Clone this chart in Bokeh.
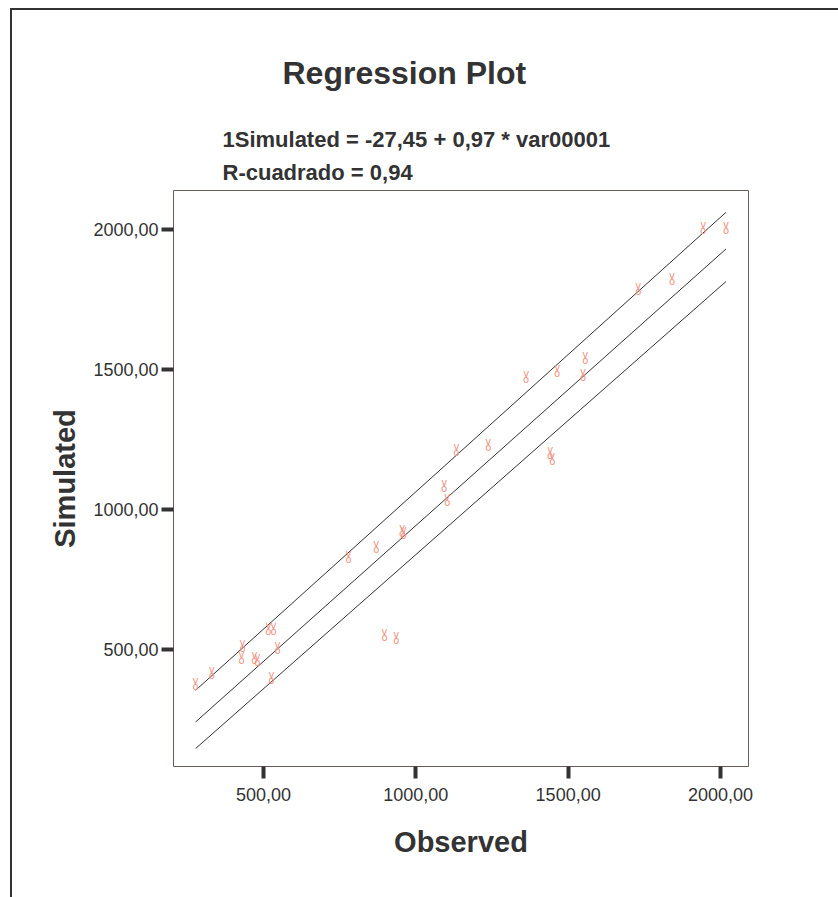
from bokeh.plotting import figure
from bokeh.models import (Range1d, FixedTicker, CustomJSTickFormatter, Title,
                          ColumnDataSource)
from bokeh.core.properties import value
from bokeh.embed import file_html
from bokeh.resources import INLINE

# ---- data ----
observed = [277, 330, 428, 431, 470, 480, 516, 533, 526, 546,
            779, 870, 897, 936, 955, 960, 1093, 1103, 1133, 1238,
            1362, 1464, 1441, 1448, 1556, 1549, 1730, 1841, 1943, 2018]
simulated = [379, 418, 471, 514, 471, 465, 575, 575, 400, 507,
             832, 868, 554, 543, 925, 918, 1086, 1036, 1214, 1232,
             1475, 1496, 1203, 1182, 1543, 1482, 1789, 1825, 2007, 2007]

line_x = [277, 2018]
fit_y = [241, 1930]
upper_y = [354, 2061]
lower_y = [146, 1814]

ticks = [500, 1000, 1500, 2000]

title_text = "Regression Plot"
sub1 = "1Simulated = -27,45 + 0,97 * var00001"
sub2 = "R-cuadrado = 0,94"
xlabel = "Observed"
ylabel = "Simulated"

FONT = "Liberation Sans"
DARK = "#333333"
W, H = 838, 897
FL, FT, FB = 173, 190, 766   # frame left / top / bottom in canvas pixels

p = figure(width=W, height=H, output_backend="svg", toolbar_location=None,
           x_range=Range1d(204.6, 2092), y_range=Range1d(82, 2139),
           min_border_left=FL, min_border_right=90, min_border_top=FT,
           min_border_bottom=H - FB)
p.title = None
p.background_fill_color = "white"
p.border_fill_color = None
p.styles = {
    "background": "linear-gradient(#333333,#333333) 10px 8px / 2px 100% no-repeat, "
                  "linear-gradient(#333333,#333333) 10px 8px / 100% 2px no-repeat, white"
}
p.outline_line_color = "#6b5b5b"
p.outline_line_width = 1
p.grid.visible = False

for ax in (p.xaxis, p.yaxis):
    ax.ticker = FixedTicker(ticks=ticks)
    ax.formatter = CustomJSTickFormatter(code="return tick.toFixed(2).replace('.', ',');")
    ax.axis_line_color = None
    ax.major_tick_line_color = DARK
    ax.major_tick_line_width = 4
    ax.major_tick_out = 12
    ax.major_tick_in = 0
    ax.minor_tick_line_color = None
    ax.major_label_text_font = FONT
    ax.major_label_text_font_size = "18px"
    ax.major_label_text_color = DARK
    ax.axis_label_text_font = FONT
    ax.axis_label_text_font_style = "bold"
    ax.axis_label_text_font_size = "29px"
    ax.axis_label_text_color = DARK

p.xaxis.axis_label = xlabel
p.yaxis.axis_label = ylabel
p.xaxis.major_label_standoff = 9
p.yaxis.major_label_standoff = 3
p.xaxis.axis_label_standoff = 22
p.yaxis.axis_label_standoff = 9

p.line(line_x, upper_y, line_color=DARK, line_width=1)
p.line(line_x, fit_y, line_color=DARK, line_width=1)
p.line(line_x, lower_y, line_color=DARK, line_width=1)

# marker: small "v" over a small "o" (approximation of the victory-hand symbol)
src = ColumnDataSource(dict(x=observed, y=simulated,
                            v=["v"] * len(observed), o=["o"] * len(observed)))
p.text("x", "y", text="v", source=src, text_color="#f2917f", text_font=value("DejaVu Sans"),
       text_font_size="10px", text_align="center", text_baseline="middle", y_offset=-3)
p.text("x", "y", text="o", source=src, text_color="#f2917f", text_font=value("DejaVu Sans"),
       text_font_size="10px", text_align="center", text_baseline="middle", y_offset=3)

# titles stacked above the frame (first added = nearest the frame)
p.add_layout(Title(text=sub2, align="left", offset=222 - FL, standoff=12,
                   text_font=FONT, text_font_style="bold", text_font_size="22px",
                   text_color=DARK), "above")
p.add_layout(Title(text=sub1, align="left", offset=222 - FL, standoff=0,
                   text_font=FONT, text_font_style="bold", text_font_size="22px",
                   text_color=DARK), "above")
p.add_layout(Title(text=title_text, align="left", offset=282 - FL, standoff=67,
                   text_font=FONT, text_font_style="bold", text_font_size="32px",
                   text_color=DARK), "above")

open("out.html", "w").write(file_html(p, INLINE))
